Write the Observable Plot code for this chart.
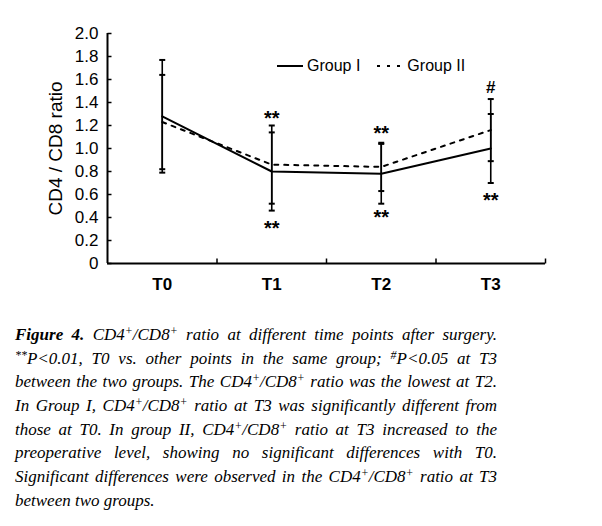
<!DOCTYPE html>
<html>
<head>
<meta charset="utf-8">
<script src="https://cdn.jsdelivr.net/npm/d3@7"></script>
<script src="https://cdn.jsdelivr.net/npm/@observablehq/plot@0.6"></script>
<style>
  html, body { margin: 0; padding: 0; background: #fff; }
  #wrap { position: relative; width: 602px; height: 526px; overflow: hidden; }
  #legend { position: absolute; top: 57px; left: 277px; height: 18px; display: flex; align-items: center;
            font: 16px "Liberation Sans", Arial, sans-serif; color: #000; white-space: nowrap; }
  #legend svg { display: block; }
  #caption { position: absolute; left: 15px; top: 323px; width: 482px;
             font: italic 17px "Liberation Serif", "Times New Roman", serif; line-height: 23.7px;
             color: #000; }
  #caption div { white-space: nowrap; height: 23.7px; }
  #caption div.j { text-align: justify; text-align-last: justify; }
  #caption sup { line-height: 0; font-size: 70%; vertical-align: 0.45em; }
</style>
</head>
<body>
<div id="wrap">
  <div id="chart"></div>
  <div id="legend"></div>
  <div id="caption">
    <div class="j"><b>Figure 4.</b> CD4<sup>+</sup>/CD8<sup>+</sup> ratio at different time points after surgery.</div>
    <div class="j"><sup>**</sup>P&lt;0.01, T0 vs. other points in the same group; <sup>#</sup>P&lt;0.05 at T3</div>
    <div class="j">between the two groups. The CD4<sup>+</sup>/CD8<sup>+</sup> ratio was the lowest at T2.</div>
    <div class="j">In Group I, CD4<sup>+</sup>/CD8<sup>+</sup> ratio at T3 was significantly different from</div>
    <div class="j">those at T0. In group II, CD4<sup>+</sup>/CD8<sup>+</sup> ratio at T3 increased to the</div>
    <div class="j">preoperative level, showing no significant differences with T0.</div>
    <div class="j">Significant differences were observed in the CD4<sup>+</sup>/CD8<sup>+</sup> ratio at T3</div>
    <div>between two groups.</div>
  </div>
</div>
<script>
// ---- data ----
const times = ["T0", "T1", "T2", "T3"];
const groups = ["Group I", "Group II"];
const g1Mean = [1.28, 0.80, 0.78, 1.00];
const g1SD   = [0.49, 0.34, 0.26, 0.30];
const g2Mean = [1.23, 0.86, 0.84, 1.16];
const g2SD   = [0.41, 0.34, 0.21, 0.27];
const yTicks = [0, 0.2, 0.4, 0.6, 0.8, 1.0, 1.2, 1.4, 1.6, 1.8, 2.0];
const yLabel = "CD4 / CD8 ratio";
const annoTime  = ["T1", "T1", "T2", "T2", "T3", "T3"];
const annoY     = [1.26, 0.30, 1.13, 0.40, 1.53, 0.55];
const annoLabel = ["**", "**", "**", "**", "#", "**"];

// ---- derived tables ----
const mk = (g, means, sds) => times.map((t, i) => ({
  group: g, time: t, t: i, mean: means[i], lo: means[i] - sds[i], hi: means[i] + sds[i]
}));
const rows1 = mk(groups[0], g1Mean, g1SD);
const rows2 = mk(groups[1], g2Mean, g2SD);
const rows = rows1.concat(rows2);
const annos = annoTime.map((t, i) => ({t: times.indexOf(t), y: annoY[i], label: annoLabel[i]}));
const bounds = times.map((_, i) => i + 0.5); // category boundaries for x ticks

const capSymbol = {draw(ctx) { ctx.moveTo(-3, 0); ctx.lineTo(3, 0); }};
const yTickSymbol = {draw(ctx) { ctx.moveTo(0, 0); ctx.lineTo(4, 0); }};
const xTickSymbol = {draw(ctx) { ctx.moveTo(0, 0); ctx.lineTo(0, -5); }};

const font = '"Liberation Sans", Arial, sans-serif';

const chart = Plot.plot({
  width: 602,
  height: 300,
  marginTop: 33,
  marginBottom: 37,
  marginLeft: 107,
  marginRight: 57,
  style: {fontFamily: font, fontSize: "17px", color: "#000", background: "#fff"},
  x: {type: "linear", domain: [-0.5, times.length - 0.5]},
  y: {domain: [0, 2]},
  marks: [
    // axis lines
    Plot.ruleY([0], {stroke: "#000", strokeWidth: 2}),
    Plot.ruleX([-0.5], {stroke: "#000", strokeWidth: 2}),
    // inward ticks
    Plot.dot(yTicks, {y: d => d, frameAnchor: "left", symbol: yTickSymbol, stroke: "#000", strokeWidth: 1.5, fill: "none"}),
    Plot.dot(bounds, {x: d => d, y: () => 0, symbol: xTickSymbol, stroke: "#000", strokeWidth: 1.5, fill: "none"}),
    // axes text
    Plot.axisY({ticks: yTicks, tickSize: 0, tickPadding: 9, tickFormat: d => d === 0 ? "0" : d.toFixed(1), fontSize: 17, label: null}),
    Plot.axisX({ticks: times.map((_, i) => i), tickSize: 0, tickPadding: 14, tickFormat: i => times[i], fontSize: 17, fontWeight: "bold", label: null}),
    Plot.text([yLabel], {frameAnchor: "left", textAnchor: "middle", rotate: -90, dx: -52, fontSize: 19}),
    // error bars
    Plot.ruleX(rows, {x: "t", y1: "lo", y2: "hi", stroke: "#000", strokeWidth: 1.6}),
    Plot.dot(rows, {x: "t", y: "hi", symbol: capSymbol, stroke: "#000", strokeWidth: 2, fill: "none"}),
    Plot.dot(rows, {x: "t", y: "lo", symbol: capSymbol, stroke: "#000", strokeWidth: 2, fill: "none"}),
    // lines
    Plot.line(rows1, {x: "t", y: "mean", stroke: "#000", strokeWidth: 2}),
    Plot.line(rows2, {x: "t", y: "mean", stroke: "#000", strokeWidth: 2, strokeDasharray: "4,6"}),
    // significance marks
    Plot.text(annos, {x: "t", y: "y", text: "label", fontSize: d => d.label === "#" ? 17 : 20, fontWeight: "bold"})
  ]
});
document.getElementById("chart").appendChild(chart);

// legend
const legend = document.getElementById("legend");
const styles = [{dash: null}, {dash: "3,7"}];
groups.forEach((g, i) => {
  const svg = d3.create("svg").attr("width", 26).attr("height", 4)
    .style("margin-left", i === 0 ? "0px" : "17px").style("margin-right", "4px");
  svg.append("line").attr("x1", 0).attr("x2", 26).attr("y1", 2).attr("y2", 2)
    .attr("stroke", "#000").attr("stroke-width", 2).attr("stroke-dasharray", styles[i].dash);
  legend.appendChild(svg.node());
  const span = document.createElement("span");
  span.textContent = g;
  legend.appendChild(span);
});
</script>
</body>
</html>
